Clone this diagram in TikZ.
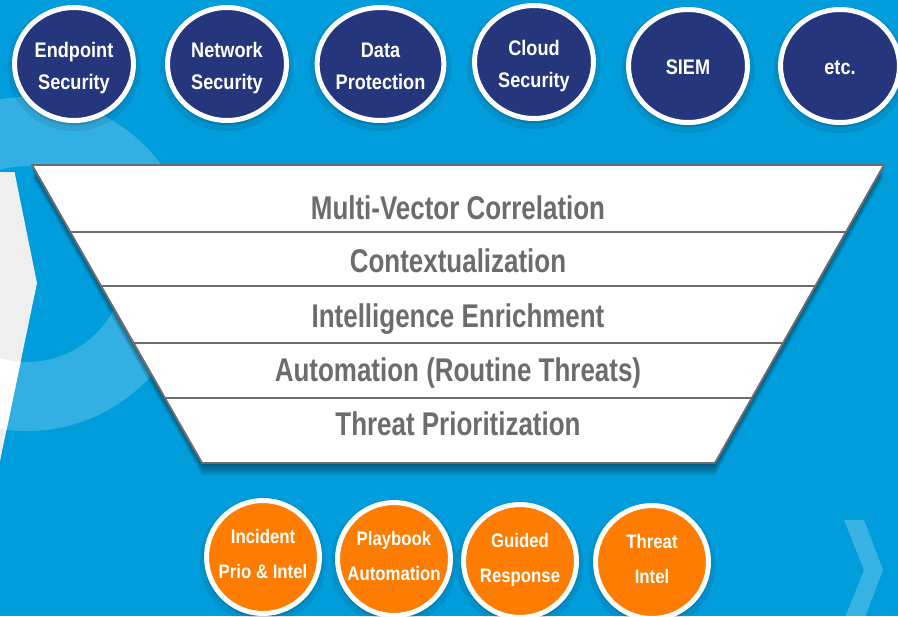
\documentclass[tikz,border=0pt]{standalone}
\usepackage{fontspec}
\newfontfamily\discfont[FakeStretch=0.86]{Liberation Sans}
\newfontfamily\layerfont[FakeStretch=0.79]{Liberation Sans}
\usetikzlibrary{shapes.geometric,shadows}

\definecolor{slideblue}{RGB}{0,157,220}
\definecolor{discnavy}{RGB}{38,54,125}
\definecolor{discorange}{RGB}{254,125,0}
\definecolor{layergrey}{RGB}{108,108,108}
\definecolor{panelgrey}{RGB}{239,239,239}

\tikzset{
	disc/.style={draw=white, line width=0.1cm, inner sep=0pt, align=center, text=white, text depth=0pt,
		general shadow={fill=black, opacity=0.08, shadow scale=1.12, shadow yshift=-2pt},
		general shadow={fill=black, opacity=0.12, shadow scale=1.05, shadow yshift=-1pt}},
	topdisc/.style={disc, ellipse, fill=discnavy, minimum width=2.38cm, minimum height=2.26cm,
		text height=10pt, font=\discfont\bfseries\fontsize{12}{18.7}\selectfont},
	twoline/.style={text height=29.5pt},
	botdisc/.style={disc, circle, fill=discorange, minimum size=2.26cm, text height=24pt,
		font=\discfont\bfseries\fontsize{11.1}{19.8}\selectfont},
	layertext/.style={anchor=base, text=layergrey, font=\layerfont\bfseries\fontsize{18.7}{22}\selectfont}
}

\begin{document}
\begin{tikzpicture}[line cap=round,line join=round,x=0.02cm,y=-0.02cm]
	\clip (0,0) rectangle (898,616);
	\fill [slideblue] (0,0) rectangle (898,616);
	% light ring on the left
	\fill [white, opacity=0.2, even odd rule] (27,264) circle [radius=3.34cm] (27,264) circle [radius=1.96cm];
	% grey side panel, the ring shows white on it
	\fill [panelgrey] (0,172) -- (14.5,172) -- (37,283) -- (0,461) -- cycle;
	\begin{scope}
		\clip (0,172) -- (14.5,172) -- (37,283) -- (0,461) -- cycle;
		\fill [white, even odd rule] (27,264) circle [radius=3.34cm] (27,264) circle [radius=1.96cm];
	\end{scope}
	% faint chevron bottom right
	\fill [white, opacity=0.22] (844,520) -- (864,520) -- (883,570) -- (864,620) -- (844,620) -- (864,570) -- cycle;

	% funnel
	\foreach \s in {2,4,...,12}
		\fill [black, opacity=0.08, shift={(0,\s)}] (32,165) -- (884,165) -- (715,463) -- (202,463) -- cycle;
	\draw [line width=1.1pt, color=layergrey, fill=white] (32,165) -- (884,165) -- (715,463) -- (202,463) -- cycle;
	\draw [line width=1.1pt, color=layergrey] (70.2,232) -- (845.8,232);
	\draw [line width=1.1pt, color=layergrey] (101.0,286) -- (815.0,286);
	\draw [line width=1.1pt, color=layergrey] (133.5,343) -- (782.5,343);
	\draw [line width=1.1pt, color=layergrey] (164.9,398) -- (751.1,398);
	\node [layertext] (correlation) at (458,219) {Multi-Vector Correlation};
	\node [layertext] (context) at (458,272) {Contextualization};
	\node [layertext] (enrich) at (458,327) {Intelligence Enrichment};
	\node [layertext] (routine) at (458,381) {Automation (Routine Threats)};
	\node [layertext] (prio) at (458,435) {Threat Prioritization};

	% sources on top
	\node [topdisc, twoline] (endpoint) at (74,64) {Endpoint\\Security};
	\node [topdisc, twoline] (network) at (227,64) {Network\\Security};
	\node [topdisc, twoline] (dataprot) at (380.5,64) {Data\\Protection};
	\node [topdisc, twoline] (cloud) at (534,62) {Cloud\\Security};
	\node [topdisc] (siem) at (688,66) {SIEM};
	\node [topdisc] (etc) at (840,66) {etc.};

	% outcomes below
	\node [botdisc] (incident) at (263,557) {Incident\\Prio \& Intel};
	\node [botdisc] (playbook) at (394,559) {Playbook\\Automation};
	\node [botdisc] (guided) at (520,561) {Guided\\Response};
	\node [botdisc] (intel) at (652,562) {Threat\\Intel};
\end{tikzpicture}
\end{document}
